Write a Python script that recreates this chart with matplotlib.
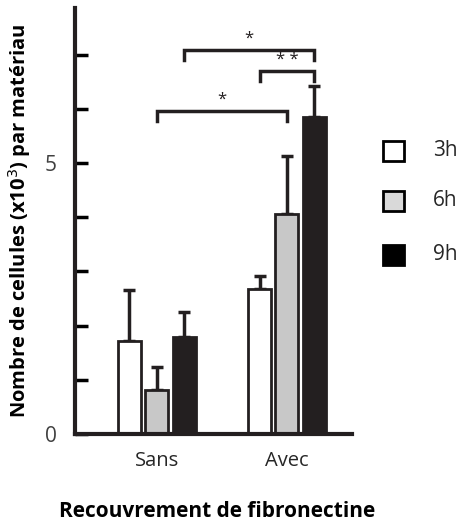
import matplotlib
matplotlib.use('Agg')
from matplotlib import pyplot as plt
from matplotlib.patches import Rectangle
import numpy as np

plt.rcParams['font.family'] = ['Open Sans', 'DejaVu Sans']

categories = ['Sans', 'Avec']
series = ['3h', '6h', '9h']
means = {'3h': [1.72, 2.67], '6h': [0.81, 4.06], '9h': [1.79, 5.85]}
err_tops = {'3h': [2.66, 2.92], '6h': [1.24, 5.13], '9h': [2.25, 6.42]}
colors = {'3h': 'white', '6h': '#c8c8c8', '9h': '#231f20'}
# significance brackets: (group, series) left, (group, series) right, height, label
brackets = [((0, '9h'), (1, '9h'), 7.08, '*'),
            ((1, '3h'), (1, '9h'), 6.70, '* *'),
            ((0, '6h'), (1, '6h'), 5.96, '*')]

fig = plt.figure(figsize=(4.59, 5.22), dpi=100)
ax = fig.add_axes([0.163, 0.1686, 0.604, 0.8161])

x = np.arange(len(categories))
width = 0.177
offsets = {'3h': -0.21, '6h': 0.0, '9h': 0.21}
ink = '#231f20'

for s in series:
    xs = x + offsets[s]
    vals = np.array(means[s])
    errs = np.array(err_tops[s]) - vals
    ax.errorbar(xs, vals, yerr=[np.zeros_like(errs), errs], fmt='none',
                ecolor=ink, elinewidth=2.5, capsize=4, capthick=2.5, zorder=1)
    ax.bar(xs, vals, width=width, color=colors[s], edgecolor=ink,
           linewidth=2, zorder=2)

leg = 0.18
for (g1, s1), (g2, s2), h, lab in brackets:
    x1 = g1 + offsets[s1]
    x2 = g2 + offsets[s2]
    ax.plot([x1, x1, x2, x2], [h - leg, h, h, h - leg], color=ink, lw=2.5,
            solid_joinstyle='miter', clip_on=False)
    ax.text((x1 + x2) / 2, h + 0.06, lab, ha='center', va='bottom',
            fontsize=12, color=ink)

ax.set_xlim(-0.63, 1.5)
ax.set_ylim(0, 7.86)
ax.set_yticks(range(0, 8))
ax.set_yticklabels(['0', '', '', '', '', '5', '', ''])
ax.set_xticks(x)
ax.set_xticklabels(categories)
ax.tick_params(axis='y', direction='in', length=9, width=2.5, labelsize=15,
               labelcolor='#404040', pad=13)
ax.tick_params(axis='x', length=0, labelsize=14.5, labelcolor='#262626', pad=12)
for side in ['top', 'right']:
    ax.spines[side].set_visible(False)
for side in ['left', 'bottom']:
    ax.spines[side].set_linewidth(3)
    ax.spines[side].set_color(ink)

ax.set_ylabel('Nombre de cellules (x10$^3$) par matériau', fontsize=14.5,
              fontweight='bold')
ax.yaxis.set_label_coords(-0.15, 0.5)
fig.text(0.473, 0.01, 'Recouvrement de fibronectine', ha='center',
         va='baseline', fontsize=15, fontweight='bold', color='black')

# legend drawn as squares with labels
leg_y = [151, 201, 255]
leg_fill = {'3h': 'white', '6h': '#d9d9d9', '9h': 'black'}
for s, yy in zip(series, leg_y):
    yf = 1 - yy / 522
    fig.patches.append(Rectangle((383 / 459, yf - 10 / 522), 21 / 459, 20 / 522,
                                 transform=fig.transFigure, facecolor=leg_fill[s],
                                 edgecolor='black', linewidth=2))
    fig.text(433 / 459, yf, s, ha='left', va='center', fontsize=15, color='#262626')

fig.savefig('out.png', dpi=100)
